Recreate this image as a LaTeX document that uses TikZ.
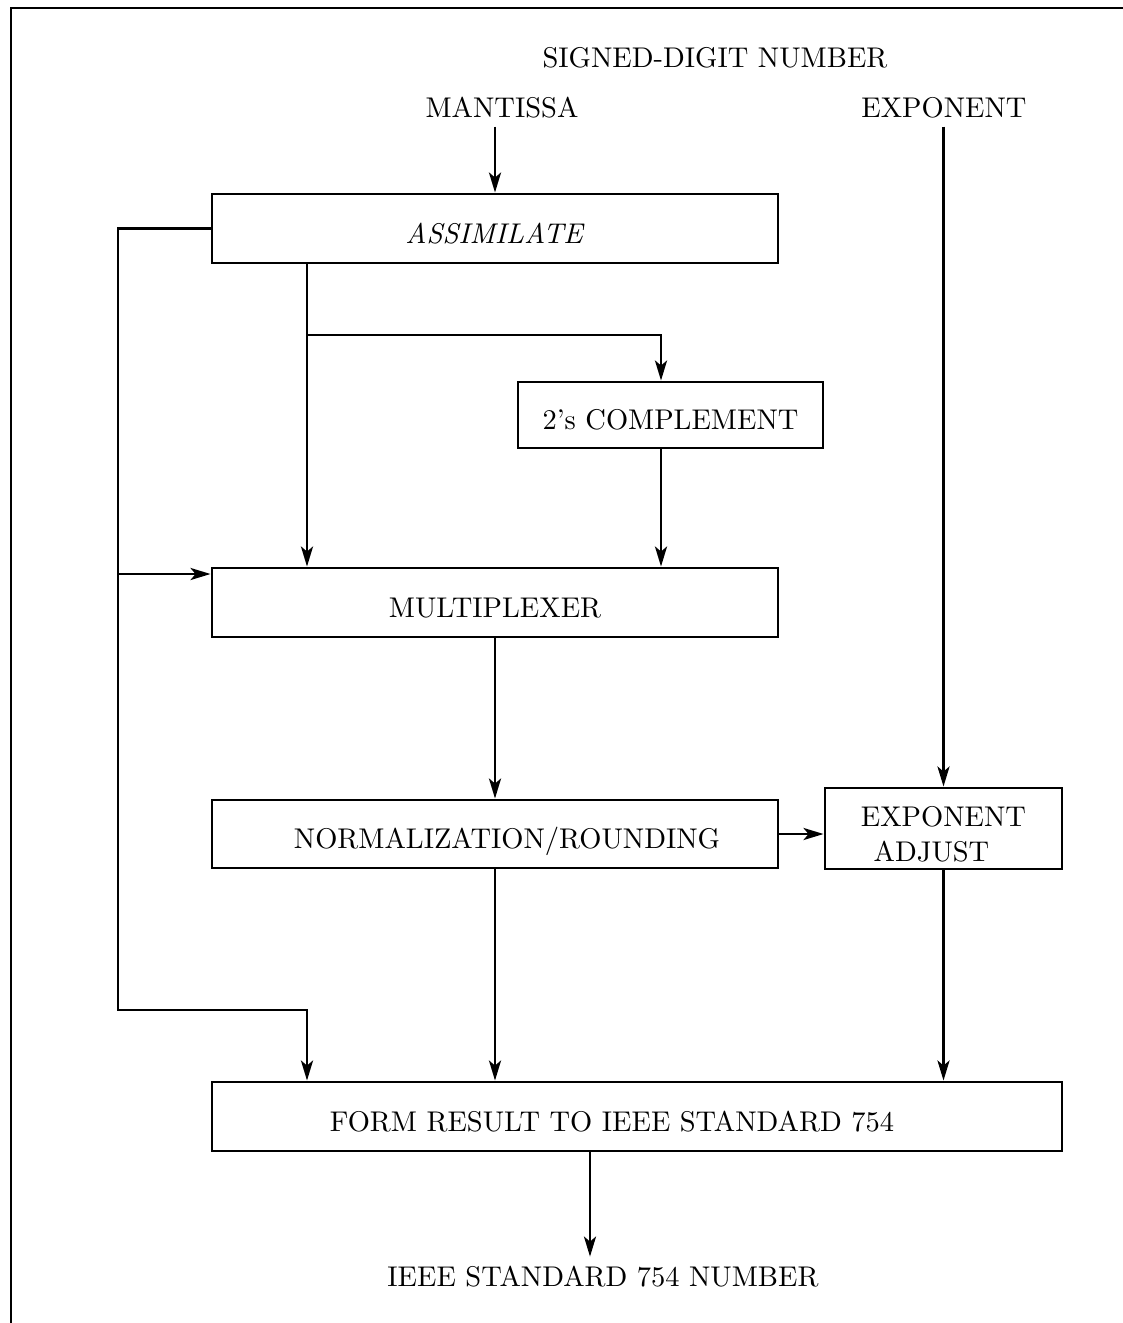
\documentclass[tikz,border=0pt]{standalone}
\usepackage{fontspec}
\setmainfont{lmroman10-regular.otf}[ItalicFont=lmroman10-italic.otf]
\usetikzlibrary{arrows.meta}
\begin{document}
\begin{tikzpicture}[x=1pt,y=-1pt,line width=2.9pt,
  txt/.style={font=\fontsize{28.5}{35}\selectfont},
  block/.style={txt,draw,rectangle,inner sep=0pt,text height=29.5pt,text depth=0pt},
  lbl/.style={txt,inner sep=0pt,outer ysep=9pt},
  arr/.style={-{Stealth[length=20pt,width=12pt,inset=5pt]}}]
\useasboundingbox (0,0) rectangle (1123,1323);
% open frame: left and top edges
\draw (11,1323) -- (11,8) -- (1123,8);

% labels
\node[lbl,anchor=base] (sdn) at (715,67) {SIGNED-DIGIT NUMBER};
\node[lbl,anchor=base] (mant) at (502,117) {MANTISSA};
\node[lbl,anchor=base] (expo) at (944,117) {EXPONENT};
\node[lbl,anchor=base] (out) at (603,1286) {IEEE STANDARD 754 NUMBER};

% blocks
\node[block,minimum width=566pt,minimum height=69pt] (assim) at (495,228.5) {\textit{ASSIMILATE}};
\node[block,minimum width=305pt,minimum height=66pt] (twos) at (670.5,415) {2's COMPLEMENT};
\node[block,minimum width=566pt,minimum height=69pt] (mux) at (495,602.5) {MULTIPLEXER};
\node[block,minimum width=566pt,minimum height=68pt] (norm) at (495,834) {\hspace*{24pt}NORMALIZATION/ROUNDING};
\node[txt,draw,rectangle,inner sep=0pt,align=center,minimum width=237pt,minimum height=81pt] (expadj) at (943.5,828.5) {EXPONENT\rule{0pt}{31.5pt}\\ADJUST\hspace*{24pt}};
\node[block,minimum width=850pt,minimum height=69pt] (form) at (637,1116.5) {FORM RESULT TO IEEE STANDARD 754\hspace*{50pt}};

% routing points
\coordinate (tap) at (307,335);
\coordinate (tapR) at (661,335);
\coordinate (busB) at (118,1010);
\coordinate (bus) at (118,574);
\coordinate (outx) at (590,0);

% connectors
\draw[arr] (mant.south -| assim.north) -- (assim.north);
\draw[arr] (expo.south -| expadj.north) -- (expadj.north);
\draw[arr] (assim.south -| tap) -- (mux.north -| tap);
\draw[arr] (tap) -- (tapR) -- (tapR |- twos.north);
\draw[arr] (twos.south -| tapR) -- (mux.north -| tapR);
\draw[arr] (assim.west) -| (busB) -| (form.north -| tap);
\draw[arr] (bus) -- (bus -| mux.west);
\draw[arr] (mux.south) -- (norm.north -| mux.south);
\draw[arr] (norm.east) -- (norm.east -| expadj.west);
\draw[arr] (norm.south) -- (form.north -| norm.south);
\draw[arr] (expadj.south) -- (expadj.south |- form.north);
\draw[arr] (form.south -| outx) -- (outx |- out.north);
\end{tikzpicture}
\end{document}
